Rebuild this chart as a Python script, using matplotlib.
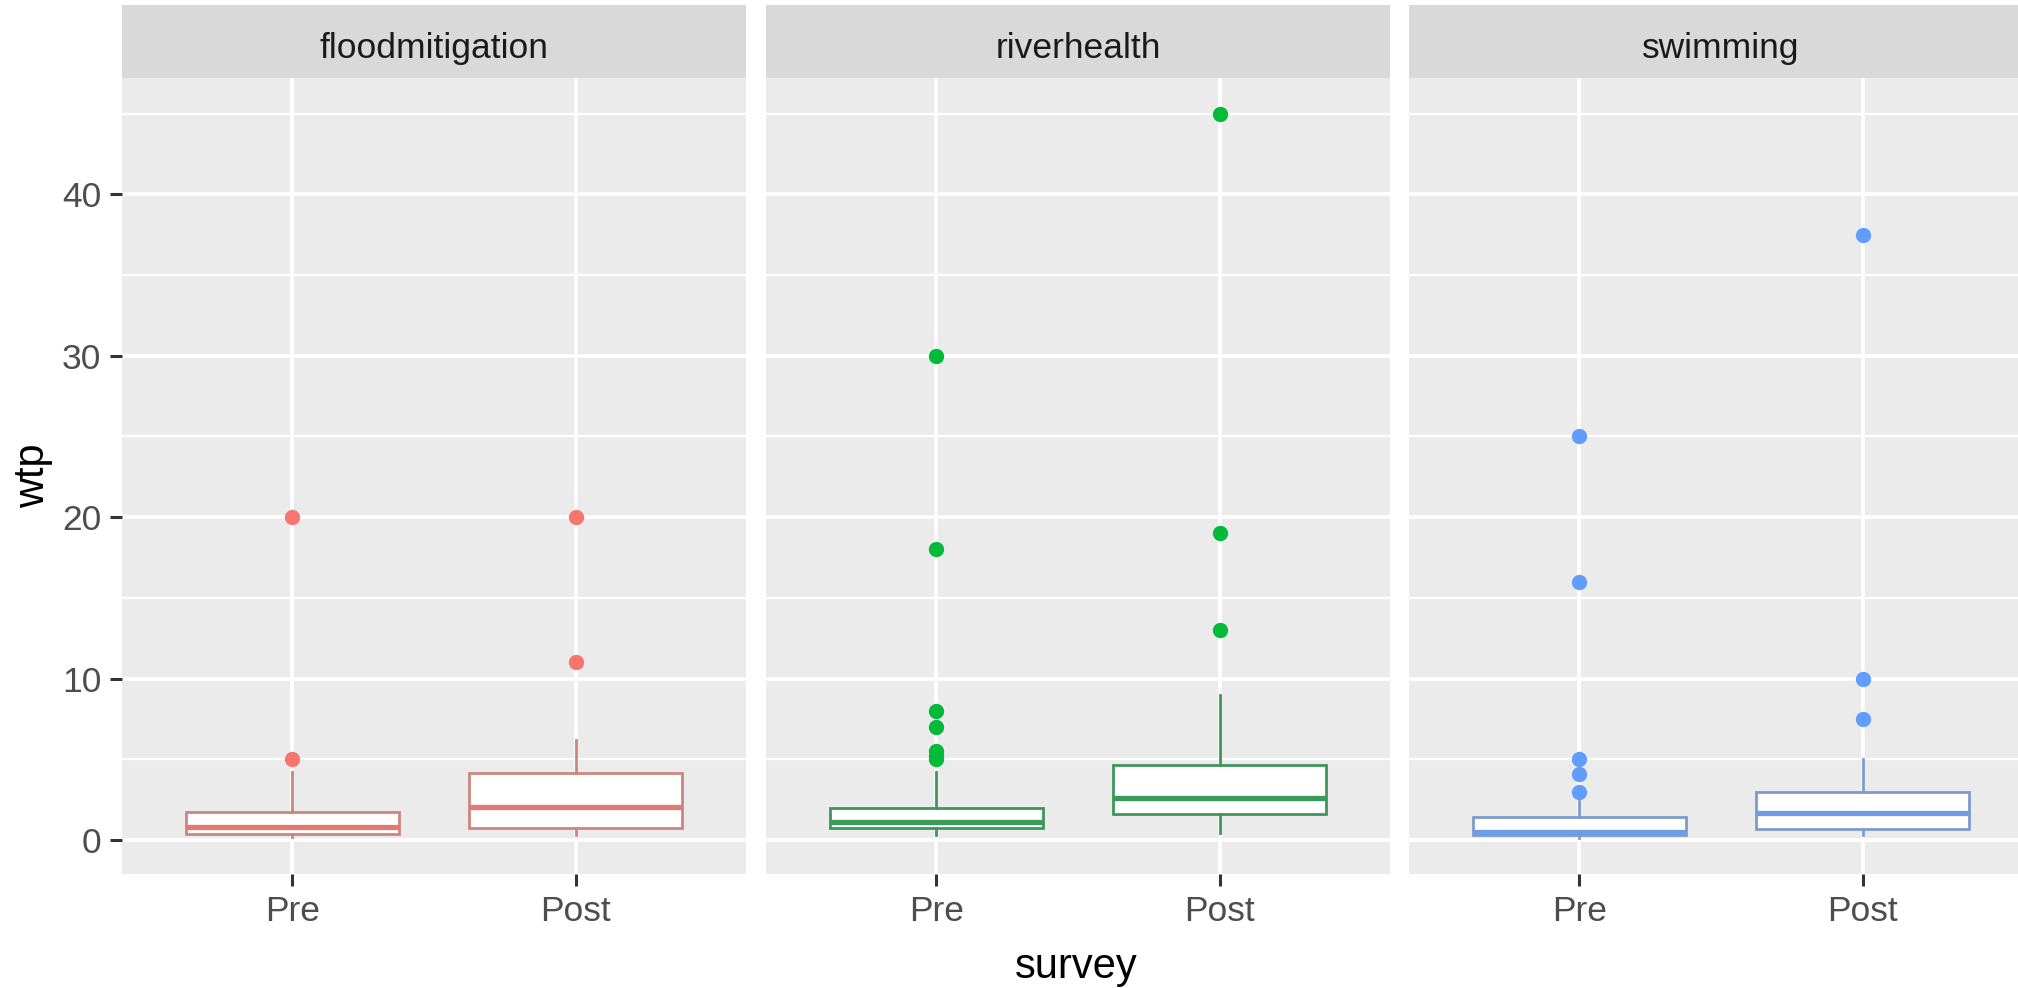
import matplotlib
matplotlib.use("Agg")
import matplotlib.pyplot as plt
from matplotlib.ticker import MultipleLocator

plt.rcParams['font.family'] = ['Liberation Sans', 'DejaVu Sans']

# facets and groups
panels = ['floodmitigation', 'riverhealth', 'swimming']
surveys = ['Pre', 'Post']

# box stats, [Pre, Post] for each facet
q1 = {'floodmitigation': [0.35, 0.72], 'riverhealth': [0.72, 1.6], 'swimming': [0.3, 0.68]}
med = {'floodmitigation': [0.8, 2.05], 'riverhealth': [1.13, 2.58], 'swimming': [0.5, 1.69]}
q3 = {'floodmitigation': [1.75, 4.13], 'riverhealth': [1.96, 4.65], 'swimming': [1.4, 3.0]}
whislo = {'floodmitigation': [0.2, 0.3], 'riverhealth': [0.3, 0.45], 'swimming': [0.1, 0.3]}
whishi = {'floodmitigation': [4.2, 6.2], 'riverhealth': [4.2, 9.0], 'swimming': [2.4, 5.05]}
fliers = {
    'floodmitigation': [[5, 20], [11, 20]],
    'riverhealth': [[5.0, 5.2, 5.5, 7, 8, 18, 30], [13, 19, 45]],
    'swimming': [[3, 4.1, 5, 16, 25], [7.5, 10, 37.5]],
}

point_col = {'floodmitigation': '#F8766D', 'riverhealth': '#00BA38', 'swimming': '#619CFF'}
edge_col = {'floodmitigation': '#CC8580', 'riverhealth': '#3F9659', 'swimming': '#7D9BCB'}
med_col = {'floodmitigation': '#E07A72', 'riverhealth': '#3A9A58', 'swimming': '#6B9DE8'}

W, H = 2018, 988
fig = plt.figure(figsize=(W / 100, H / 100), dpi=100)

lefts = [122, 766, 1409]
pw = 624
p_top, p_bot = 78, 874
s_top = 5

for i, name in enumerate(panels):
    x0 = lefts[i]
    ax = fig.add_axes([x0 / W, (H - p_bot) / H, pw / W, (p_bot - p_top) / H])
    ax.set_facecolor('#EBEBEB')
    for sp in ax.spines.values():
        sp.set_visible(False)

    stats = []
    for j, s in enumerate(surveys):
        stats.append(dict(med=med[name][j], q1=q1[name][j], q3=q3[name][j],
                          whislo=whislo[name][j], whishi=whishi[name][j],
                          fliers=fliers[name][j], label=s))
    ec = edge_col[name]
    ax.bxp(stats, positions=[1, 2], widths=0.75, patch_artist=True, showcaps=False,
           boxprops=dict(facecolor='white', edgecolor=ec, linewidth=2.0),
           whiskerprops=dict(color=ec, linewidth=2.0),
           medianprops=dict(color=med_col[name], linewidth=3.8, solid_capstyle='butt'),
           flierprops=dict(marker='o', markerfacecolor=point_col[name],
                           markeredgecolor=point_col[name], markersize=10,
                           markeredgewidth=1, linestyle='none'),
           zorder=3)

    ax.set_xlim(0.4, 2.6)
    ax.set_ylim(-2.1, 47.2)
    ax.set_xticks([1, 2])
    ax.set_xticklabels(surveys)
    ax.yaxis.set_major_locator(MultipleLocator(10))
    ax.yaxis.set_minor_locator(MultipleLocator(5))
    ax.set_axisbelow(True)
    ax.grid(which='major', color='white', linewidth=2.6)
    ax.grid(which='minor', axis='y', color='white', linewidth=1.6)
    ax.tick_params(axis='both', which='major', length=8.8, width=2.2, color='#333333',
                   labelsize=25.5, labelcolor='#4D4D4D', pad=6)
    ax.tick_params(which='minor', length=0)
    if i > 0:
        ax.tick_params(axis='y', which='both', length=0, labelleft=False)

    # facet strip
    sax = fig.add_axes([x0 / W, (H - p_top) / H, pw / W, (p_top - s_top) / H])
    sax.set_facecolor('#D9D9D9')
    sax.set_xticks([])
    sax.set_yticks([])
    for sp in sax.spines.values():
        sp.set_visible(False)
    fig.text((x0 + pw / 2) / W, (H - 57.7) / H, name, ha='center', va='baseline',
             fontsize=25.5, color='#1A1A1A')

fig.text(1076 / W, (H - 978.3) / H, 'survey', ha='center', va='baseline',
         fontsize=30, color='black')
fig.text(33 / W, (H - 476) / H, 'wtp', ha='center', va='center', rotation=90,
         fontsize=30, color='black')

fig.savefig('out.png', dpi=100, facecolor='white')
